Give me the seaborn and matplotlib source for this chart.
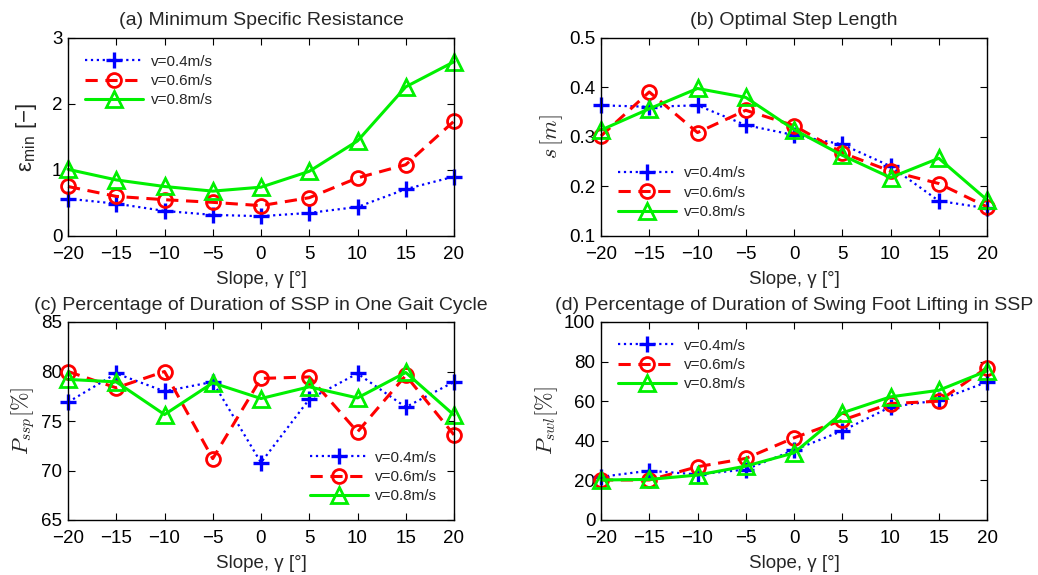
import numpy as np
import matplotlib
matplotlib.use("Agg")
import matplotlib.pyplot as plt
import seaborn as sns

# ---------------- data ----------------
slopes = [-20, -15, -10, -5, 0, 5, 10, 15, 20]
speeds = ["v=0.4m/s", "v=0.6m/s", "v=0.8m/s"]

eps_04 = [0.565, 0.49, 0.38, 0.32, 0.30, 0.35, 0.44, 0.71, 0.90]
eps_06 = [0.75, 0.60, 0.55, 0.51, 0.46, 0.58, 0.88, 1.08, 1.74]
eps_08 = [1.01, 0.85, 0.75, 0.68, 0.74, 0.98, 1.44, 2.26, 2.64]

step_04 = [0.364, 0.361, 0.364, 0.324, 0.304, 0.285, 0.241, 0.171, 0.156]
step_06 = [0.302, 0.391, 0.309, 0.354, 0.323, 0.268, 0.231, 0.206, 0.159]
step_08 = [0.314, 0.357, 0.398, 0.380, 0.315, 0.263, 0.218, 0.257, 0.173]

pssp_04 = [76.9, 79.8, 78.0, 78.95, 70.8, 77.2, 79.8, 76.4, 78.95]
pssp_06 = [80.0, 78.35, 80.0, 71.2, 79.3, 79.45, 73.9, 79.6, 73.6]
pssp_08 = [79.2, 78.95, 75.65, 78.85, 77.27, 78.45, 77.33, 79.9, 75.6]

pswl_04 = [21.8, 24.9, 23.0, 25.5, 35.3, 45.0, 57.1, 60.5, 69.7]
pswl_06 = [20.2, 20.2, 26.9, 31.1, 41.5, 50.4, 58.8, 60.0, 77.0]
pswl_08 = [20.2, 20.5, 22.7, 27.2, 33.9, 54.1, 62.2, 65.5, 75.3]

titles = ["(a) Minimum Specific Resistance",
          "(b) Optimal Step Length",
          "(c) Percentage of Duration of SSP in One Gait Cycle",
          "(d) Percentage of Duration of Swing Foot Lifting in SSP"]
ylabels = [r"ε$_\mathregular{min}$ [−]", r"$s\,[m]$",
           r"$P_{ssp}[\%]$", r"$P_{swl}[\%]$"]
ylims = [(0, 3), (0.1, 0.5), (65, 85), (0, 100)]
yticks = [[0, 1, 2, 3], [0.1, 0.2, 0.3, 0.4, 0.5],
          [65, 70, 75, 80, 85], [0, 20, 40, 60, 80, 100]]
ytick_labels = [["0", "1", "2", "3"], ["0.1", "0.2", "0.3", "0.4", "0.5"],
                ["65", "70", "75", "80", "85"], ["0", "20", "40", "60", "80", "100"]]
legend_locs = ["upper left", "lower left", "lower right", "upper left"]
# -------------------------------------------------------------

sns.set_theme(style="ticks")
plt.rcParams["font.family"] = ["Liberation Sans", "DejaVu Sans"]
plt.rcParams["mathtext.fontset"] = "cm"
plt.rcParams["axes.unicode_minus"] = True

panels = [(eps_04, eps_06, eps_08), (step_04, step_06, step_08),
          (pssp_04, pssp_06, pssp_08), (pswl_04, pswl_06, pswl_08)]

styles = [dict(color="#0000ff", marker="+", linestyle=":", linewidth=1.6,
               markersize=11, markeredgewidth=2.4, markeredgecolor="#0000ff"),
          dict(color="#ff0000", marker="o", linestyle=(0, (4, 2.5)), linewidth=2.2,
               markersize=10, markeredgewidth=2.0, markeredgecolor="#ff0000",
               markerfacecolor="none"),
          dict(color="#00f000", marker="^", linestyle="-", linewidth=2.2,
               markersize=12, markeredgewidth=2.0, markeredgecolor="#00f000",
               markerfacecolor="none")]
ylabel_pads = [9, 3, 3, 3]

fig = plt.figure(figsize=(10.38, 5.75), dpi=100)
W, H = 1038.0, 575.0
boxes = [(68, 38, 454, 236), (601, 38, 987, 236),
         (68, 322, 454, 520), (601, 322, 987, 520)]

for i, (l, t, r, b) in enumerate(boxes):
    ax = fig.add_axes([l / W, 1 - b / H, (r - l) / W, (b - t) / H])
    for vals, name, st in zip(panels[i], speeds, styles):
        sns.lineplot(x=slopes, y=vals, ax=ax, label=name, clip_on=False, **st)
    ax.set_xlim(-20, 20)
    ax.set_ylim(*ylims[i])
    ax.set_xticks(slopes)
    ax.set_xticklabels([str(s).replace("-", "−") for s in slopes])
    ax.set_yticks(yticks[i])
    ax.set_yticklabels(ytick_labels[i])
    ax.tick_params(direction="in", top=True, right=True, labelsize=13.5,
                   length=5, width=0.8, colors="black")
    ax.tick_params(axis="x", pad=7)
    ax.tick_params(axis="y", pad=4)
    for sp in ax.spines.values():
        sp.set_linewidth(1.0)
        sp.set_color("black")
    ax.set_title(titles[i], fontsize=14, pad=9)
    ax.set_xlabel("Slope, γ [°]", fontsize=13.5, labelpad=6)
    ax.set_ylabel(ylabels[i], fontsize=16, labelpad=ylabel_pads[i])
    ax.legend(loc=legend_locs[i], frameon=False, fontsize=11, handlelength=3.8,
              handletextpad=0.5, labelspacing=0.35, borderaxespad=0.8,
              borderpad=0.3)

fig.savefig("out.png", dpi=100)
